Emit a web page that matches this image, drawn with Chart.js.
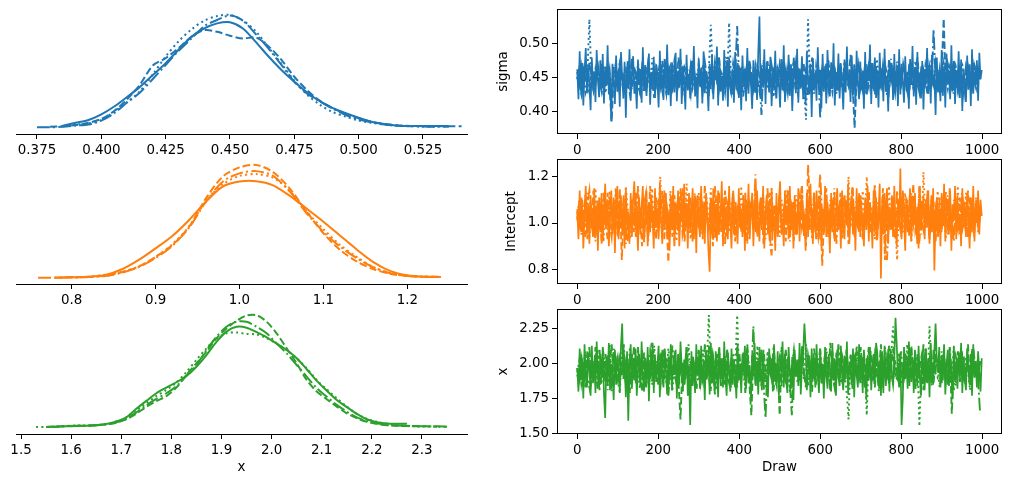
<!DOCTYPE html>
<html><head><meta charset="utf-8">
<script src="https://cdn.jsdelivr.net/npm/chart.js@4.4.1/dist/chart.umd.min.js"></script>
<style>
html,body{margin:0;padding:0;background:#fff;width:1018px;height:487px;overflow:hidden;position:relative}
canvas{position:absolute}
</style></head><body>
<script>
// ---------- KDE grids and densities (4 chains each) ----------
const sigmaGrid = [0.375,0.380,0.385,0.390,0.395,0.400,0.405,0.410,0.415,0.420,0.425,0.430,0.435,0.440,0.445,0.450,0.455,0.460,0.465,0.470,0.475,0.480,0.485,0.490,0.495,0.500,0.505,0.510,0.515,0.520,0.525,0.530,0.535,0.540];
const sigmaKde0 = [null,null,0.3,0.8,1.3,2.3,3.7,5.4,7.2,9.3,11.4,13.8,16.1,17.6,18.5,18.7,17.6,15.2,12.6,10.2,8.1,6.2,4.6,3.4,2.5,1.7,1.0,0.6,0.3,0.25,0.24,0.24,0.24,null];
const sigmaKde1 = [null,0.1,0.2,0.4,0.8,1.5,2.9,5.0,7.6,11.0,12.3,14.1,16.1,17.3,17.0,16.3,15.8,16.0,14.4,12.0,9.0,6.6,4.7,3.4,2.4,1.6,1.0,0.6,0.35,0.25,0.2,0.2,0.2,0.2];
const sigmaKde2 = [0.0,0.0,0.1,0.3,0.5,1.2,2.5,4.4,6.2,8.6,11.1,13.6,15.8,18.0,19.1,19.9,19.0,16.6,14.0,11.1,8.1,6.0,4.6,3.3,2.2,1.4,0.9,0.5,0.3,0.2,0.15,0.1,0.1,null];
const sigmaKde3 = [null,null,0.2,0.5,0.7,1.3,2.8,4.5,6.4,9.4,12.6,15.3,17.4,19.0,19.8,20.0,19.0,17.1,14.2,11.3,8.3,5.8,4.0,2.7,1.9,1.2,0.8,0.5,0.3,0.2,0.15,0.15,null,null];

const interceptGrid = [0.76,0.78,0.80,0.82,0.84,0.86,0.88,0.90,0.92,0.94,0.96,0.98,1.00,1.02,1.04,1.06,1.08,1.10,1.12,1.14,1.16,1.18,1.20,1.22,1.24];
const interceptKde0 = [null,0.0,0.02,0.05,0.14,0.45,0.95,1.57,2.23,3.09,4.07,4.88,5.15,5.17,4.95,4.38,3.70,3.0,2.25,1.5,0.82,0.35,0.13,0.05,0.03];
const interceptKde1 = [null,0.01,0.02,0.04,0.1,0.3,0.59,1.12,1.75,2.73,4.25,5.41,5.91,6.04,5.66,4.77,3.54,2.38,1.48,0.86,0.45,0.2,0.09,0.05,0.04];
const interceptKde2 = [0.0,0.0,0.01,0.03,0.09,0.27,0.57,1.05,1.71,2.68,4.07,5.14,5.59,5.71,5.45,4.61,3.45,2.46,1.66,1.04,0.55,0.23,0.09,0.05,0.04];
const interceptKde3 = [null,null,0.02,0.05,0.16,0.3,0.6,1.1,1.8,2.75,4.1,5.0,5.45,5.55,5.35,4.65,3.55,2.6,1.75,1.1,0.55,0.25,0.1,0.06,0.04];

const xGrid = [1.53,1.55,1.57,1.59,1.61,1.63,1.65,1.67,1.69,1.71,1.73,1.75,1.77,1.79,1.81,1.83,1.85,1.87,1.89,1.91,1.93,1.95,1.97,1.99,2.01,2.03,2.05,2.07,2.09,2.11,2.13,2.15,2.17,2.19,2.21,2.23,2.25,2.27,2.29,2.31,2.33,2.35];
const xKde0 = [null,0.01,0.02,0.03,0.04,0.05,0.07,0.11,0.2,0.35,0.65,0.93,1.2,1.4,1.59,1.81,2.14,2.55,3.02,3.38,3.55,3.52,3.36,3.18,2.96,2.73,2.44,2.05,1.64,1.29,0.96,0.71,0.47,0.28,0.18,0.13,0.12,0.12,null,null,null,null];
const xKde1 = [null,null,0.02,0.04,0.05,0.06,0.07,0.1,0.16,0.28,0.48,0.72,0.92,1.1,1.4,1.85,2.26,2.67,3.14,3.49,3.76,3.95,3.96,3.73,3.32,2.79,2.26,1.67,1.26,0.99,0.73,0.49,0.32,0.19,0.12,0.07,0.05,0.04,0.03,0.03,0.02,null];
const xKde2 = [null,0.01,0.02,0.04,0.05,0.05,0.07,0.1,0.17,0.3,0.52,0.78,1.0,1.2,1.45,1.82,2.2,2.73,3.2,3.55,3.73,3.73,3.55,3.32,2.96,2.61,2.2,1.79,1.38,1.08,0.79,0.55,0.35,0.22,0.14,0.08,0.06,0.05,0.04,0.03,0.03,0.02];
const xKde3 = [0.01,0.01,0.02,0.04,0.06,0.05,0.07,0.11,0.2,0.35,0.6,0.85,1.1,1.32,1.58,1.95,2.38,2.79,3.14,3.32,3.35,3.3,3.28,3.15,2.95,2.73,2.44,2.08,1.67,1.34,1.02,0.73,0.47,0.29,0.19,0.12,0.07,0.05,0.03,0.03,0.02,0.02];

// ---------- Trace values ----------
// chain 0 read every 3rd draw, chains 1-3 every 5th draw
const drawsChain0 = Array.from({length: 334}, (_, i) => i * 3);
const drawsOther = Array.from({length: 200}, (_, i) => i * 5);

const sigmaTrace0 = [
.462,.418,.488,.431,.471,.409,.456,.493,.427,.468,.441,.402,.479,.436,.459,.414,.490,.447,.421,.475,
.433,.484,.412,.466,.438,.497,.425,.453,.386,.470,.444,.411,.482,.429,.461,.407,.487,.450,.419,.473,
.391,.465,.434,.491,.416,.457,.481,.426,.445,.404,.476,.439,.462,.413,.494,.430,.468,.423,.449,.485,
.410,.458,.437,.480,.420,.469,.443,.406,.489,.432,.454,.417,.477,.440,.498,.424,.463,.408,.472,.446,
.428,.486,.415,.460,.435,.492,.411,.467,.448,.403,.483,.431,.455,.419,.474,.439,.496,.422,.451,.405,
.478,.437,.464,.412,.488,.427,.457,.442,.401,.470,.433,.484,.418,.461,.446,.495,.409,.476,.429,.452,
.416,.490,.436,.466,.407,.479,.444,.425,.459,.413,.487,.432,.471,.420,.453,.402,.482,.438,.463,.415,
.493,.426,.468,.441,.404,.475,.430,.458,.417,.486,.539,.421,.462,.435,.491,.411,.473,.447,.428,.480,
.408,.456,.434,.489,.419,.465,.443,.406,.477,.431,.497,.414,.460,.439,.483,.423,.469,.401,.452,.474,
.427,.492,.413,.463,.436,.481,.418,.454,.410,.488,.445,.425,.470,.392,.478,.433,.457,.416,.494,.440,
.461,.405,.484,.429,.467,.412,.490,.447,.422,.472,.435,.500,.409,.458,.431,.485,.419,.464,.441,.403,
.476,.428,.495,.437,.455,.414,.482,.424,.469,.407,.489,.442,.418,.473,.432,.460,.404,.487,.426,.466,
.445,.498,.411,.471,.433,.479,.420,.457,.406,.486,.438,.463,.415,.492,.429,.452,.400,.475,.443,.468,
.417,.484,.436,.460,.408,.491,.425,.470,.444,.413,.481,.431,.458,.404,.477,.439,.496,.422,.465,.410,
.487,.434,.456,.419,.474,.403,.462,.440,.493,.426,.468,.412,.483,.437,.451,.395,.479,.428,.461,.415,
.490,.423,.467,.406,.485,.442,.455,.418,.497,.430,.472,.411,.459,.436,.488,.420,.476,.401,.463,.444,
.414,.482,.432,.469,.408,.491,.426,.458,.439,.475,.416,.486,.447,.461];
const sigmaTrace1 = [
.458,.441,.426,.463,.449,.435,.472,.446,.431,.455,.468,.439,.452,.424,.461,.447,.433,.385,.456,.470,
.443,.429,.459,.451,.437,.476,.444,.432,.466,.453,.440,.427,.462,.449,.434,.471,.457,.445,.420,.463,
.450,.438,.474,.446,.428,.459,.467,.441,.453,.436,.479,.448,.430,.464,.455,.442,.425,.469,.451,.437,
.460,.446,.431,.473,.452,.439,.465,.426,.457,.444,.481,.436,.450,.428,.466,.453,.440,.470,.447,.433,
.462,.449,.422,.458,.441,.476,.455,.434,.467,.446,.430,.463,.451,.438,.474,.443,.427,.459,.448,.435,
.469,.452,.440,.461,.426,.457,.444,.478,.433,.465,.449,.437,.470,.454,.423,.462,.447,.435,.458,.441,
.429,.466,.453,.439,.475,.448,.431,.463,.450,.437,.472,.445,.428,.459,.446,.483,.440,.376,.455,.468,
.442,.430,.464,.451,.436,.473,.447,.425,.460,.453,.439,.468,.444,.432,.476,.456,.441,.427,.462,.449,
.437,.470,.455,.443,.428,.465,.452,.438,.479,.446,.433,.461,.448,.424,.467,.454,.440,.471,.445,.431,
.459,.536,.442,.468,.451,.436,.474,.447,.429,.463,.453,.440,.426,.466,.449,.435,.472,.456,.443,.458];
const sigmaTrace2 = [
.447,.463,.432,.455,.470,.441,.428,.459,.451,.436,.474,.445,.430,.466,.453,.439,.461,.424,.457,.448,
.435,.469,.452,.440,.426,.463,.449,.477,.438,.456,.443,.429,.465,.451,.434,.472,.446,.431,.460,.444,
.458,.437,.471,.450,.427,.462,.445,.433,.468,.453,.440,.476,.447,.425,.459,.442,.466,.436,.454,.430,
.469,.448,.435,.461,.452,.423,.464,.439,.473,.446,.431,.458,.450,.437,.480,.444,.428,.462,.455,.525,
.441,.467,.453,.432,.470,.447,.438,.459,.426,.464,.451,.395,.472,.443,.456,.434,.468,.449,.429,.461,
.445,.476,.437,.452,.428,.465,.450,.439,.471,.446,.433,.458,.424,.463,.448,.436,.479,.454,.441,.466,
.390,.457,.444,.470,.431,.453,.440,.467,.426,.459,.447,.434,.474,.452,.438,.462,.429,.456,.443,.468,
.436,.461,.449,.425,.466,.451,.438,.473,.445,.430,.458,.442,.469,.455,.433,.477,.448,.427,.463,.450,
.439,.464,.452,.431,.470,.446,.437,.459,.443,.428,.467,.454,.441,.474,.449,.434,.520,.447,.436,.461,
.428,.455,.442,.469,.451,.437,.475,.446,.432,.460,.449,.426,.466,.453,.440,.472,.445,.434,.462,.451];
const sigmaTrace3 = [
.451,.438,.466,.443,.429,.457,.535,.446,.432,.462,.449,.436,.470,.454,.427,.460,.445,.433,.467,.452,
.440,.474,.448,.431,.459,.444,.426,.463,.450,.437,.471,.455,.441,.428,.465,.447,.434,.478,.453,.439,
.461,.446,.430,.468,.452,.424,.458,.443,.473,.449,.436,.462,.445,.429,.466,.454,.440,.476,.432,.457,
.448,.435,.469,.453,.427,.463,.527,.438,.472,.450,.433,.459,.444,.480,.437,.530,.442,.425,.467,.451,
.436,.463,.449,.428,.471,.455,.441,.458,.430,.466,.452,.439,.475,.446,.433,.461,.448,.421,.464,.445,
.470,.443,.456,.432,.468,.451,.437,.479,.444,.427,.462,.449,.435,.388,.535,.440,.458,.426,.466,.447,
.433,.461,.448,.437,.474,.445,.429,.465,.452,.438,.470,.446,.431,.459,.455,.442,.428,.467,.450,.436,
.463,.449,.426,.470,.454,.441,.459,.433,.477,.447,.436,.462,.451,.424,.468,.443,.457,.430,.473,.448,
.437,.465,.452,.428,.469,.446,.434,.474,.455,.440,.461,.427,.467,.450,.436,.478,.444,.431,.458,.453,
.442,.470,.447,.433,.464,.451,.426,.466,.455,.438,.473,.448,.430,.461,.445,.437,.468,.452,.440,.457];

const interceptTrace0 = [
1.06,0.93,1.14,0.97,1.10,0.89,1.03,1.16,0.95,1.08,0.91,1.12,1.00,0.94,1.15,0.99,1.07,0.88,1.11,0.96,
1.13,0.92,1.05,1.17,0.98,1.09,0.90,1.02,1.14,0.95,1.11,0.87,1.06,1.16,0.93,1.01,1.12,0.96,1.08,0.89,
1.15,0.99,1.04,0.91,1.13,0.94,1.10,1.18,0.97,1.03,0.88,1.11,0.95,1.07,1.16,0.92,1.00,1.14,0.90,1.09,
0.96,1.12,1.02,0.89,1.15,0.98,1.06,0.93,1.17,1.01,0.91,1.10,0.97,1.13,0.94,1.05,0.88,1.12,1.00,1.16,
0.92,1.08,0.99,1.14,0.90,1.04,1.11,0.95,1.17,0.98,1.07,0.89,1.13,0.96,1.02,1.15,0.93,1.09,0.87,1.12,
1.01,0.94,1.16,0.97,1.06,0.91,1.13,1.03,0.88,0.79,1.10,0.95,1.15,0.99,1.08,0.92,1.14,0.96,1.04,1.18,
0.90,1.11,0.97,1.07,0.93,1.16,1.00,0.89,1.13,0.95,1.09,1.02,0.91,1.15,0.98,1.06,0.94,1.12,0.88,1.10,
0.99,1.17,0.93,1.05,1.13,0.90,1.08,0.96,1.14,1.01,0.92,1.11,0.97,1.16,0.89,1.04,1.12,0.95,1.07,0.91,
1.15,0.98,1.03,0.88,1.13,0.94,1.10,1.18,0.96,1.02,0.90,1.14,0.99,1.06,0.93,1.16,0.97,1.09,0.89,1.12,
1.00,0.95,1.15,0.92,1.07,1.11,0.97,1.04,0.88,1.13,0.94,1.08,1.17,0.99,0.91,1.10,0.96,1.14,1.02,0.93,
1.12,0.90,1.06,0.98,1.16,0.94,1.09,1.01,0.87,1.13,0.96,1.11,0.92,1.05,1.15,0.97,1.08,0.89,1.14,1.00,
0.93,1.10,0.99,1.17,0.91,1.04,1.12,0.95,1.07,0.88,1.15,0.98,1.13,0.94,1.06,1.01,0.90,1.11,0.97,1.16,
0.92,1.09,1.03,0.89,1.14,0.96,1.11,0.93,1.05,1.17,0.76,1.08,0.95,1.13,0.99,1.15,0.91,1.07,0.97,1.12,
0.94,1.16,1.00,0.90,1.10,0.98,1.235,0.93,1.14,1.02,0.88,1.11,0.96,1.06,1.15,0.92,1.09,0.99,1.13,0.95,
1.07,0.89,1.16,0.97,1.04,1.12,0.93,1.10,0.98,1.14,0.91,1.08,0.96,1.15,0.795,1.03,1.11,0.94,1.06,0.90,
1.13,0.99,1.17,0.92,1.05,1.10,0.95,1.14,0.88,1.08,1.01,1.16,0.93,1.12,0.97,1.04,0.90,1.15,0.98,1.09,
0.94,1.13,1.02,0.89,1.11,0.96,1.16,0.92,1.07,1.00,1.14,0.95,1.10,1.03];
const interceptTrace1 = [
1.01,1.09,0.96,1.04,1.12,0.93,1.07,0.99,1.14,0.95,1.02,1.10,0.91,1.06,0.98,1.13,1.00,0.94,1.08,1.03,
0.97,1.15,0.84,1.05,1.11,0.92,1.01,1.07,0.96,1.13,0.99,1.04,0.90,1.09,1.02,0.95,1.16,0.98,1.06,0.93,
1.10,1.00,0.97,1.14,1.03,0.83,1.08,0.94,1.12,1.01,0.96,1.05,1.15,0.92,1.07,0.99,1.11,0.95,1.04,1.09,
0.98,1.13,0.93,1.06,1.02,0.97,1.10,0.90,1.16,1.03,0.95,1.08,1.00,1.14,0.94,1.05,0.99,1.11,0.92,1.07,
1.04,0.96,1.12,1.01,0.93,1.09,1.06,0.97,1.15,0.95,1.02,1.10,0.91,1.07,1.00,1.13,0.96,1.04,1.08,0.94,
1.11,0.99,1.05,0.92,1.14,1.02,0.97,1.09,0.95,1.06,1.12,0.98,1.03,0.90,1.25,1.07,0.96,1.13,1.00,0.94,
1.08,0.815,1.04,1.15,0.97,1.01,1.10,0.93,1.06,0.99,1.13,0.95,1.03,1.09,0.91,1.05,1.16,0.98,1.02,0.96,
1.12,0.94,1.07,1.00,1.14,0.96,1.03,1.10,0.92,1.05,0.99,1.15,0.84,1.08,1.01,0.97,1.11,0.93,1.06,1.02,
0.95,1.13,1.00,1.08,0.94,1.04,1.17,0.97,1.02,0.91,1.10,1.06,0.98,1.14,0.95,1.03,1.09,0.92,1.07,1.01,
0.96,1.12,1.04,0.99,1.15,0.93,1.06,1.01,0.97,1.11,0.95,1.08,1.02,1.14,0.94,1.05,0.99,1.10,0.96,1.03];
const interceptTrace2 = [
1.05,0.97,1.11,1.02,0.94,1.08,1.14,0.99,1.03,0.92,1.10,1.06,0.96,1.13,1.00,0.93,1.09,1.04,0.98,1.15,
0.95,1.07,1.01,1.12,0.91,1.05,0.98,1.10,1.03,0.94,1.16,1.00,0.97,1.08,1.13,0.92,1.06,1.02,0.99,1.11,
0.96,1.04,1.14,0.93,1.09,1.01,0.97,1.12,0.90,1.07,1.03,1.15,0.95,1.00,1.10,0.98,1.06,0.92,1.13,1.02,
0.99,1.08,0.94,1.16,1.04,0.97,1.11,1.01,0.93,1.07,1.13,0.96,1.03,0.91,1.09,1.05,0.98,1.14,1.00,0.95,
1.10,1.02,0.96,1.13,0.92,1.06,1.09,0.99,1.21,0.94,1.04,1.11,0.97,1.01,1.15,0.93,0.86,1.08,1.03,0.98,
1.12,0.95,1.05,1.00,1.14,0.92,1.07,1.02,0.96,1.10,0.99,1.16,0.94,1.04,1.09,0.97,1.01,1.13,0.93,1.06,
1.21,1.03,0.98,1.11,0.95,1.07,1.00,1.14,0.91,1.05,1.09,0.96,1.12,1.02,0.97,1.08,1.15,0.94,1.04,0.99,
1.10,0.93,1.06,1.01,1.13,0.96,1.03,1.17,0.95,1.08,0.98,1.12,0.92,0.84,1.05,1.00,1.11,0.97,1.14,1.02,
0.94,1.07,1.03,1.10,0.96,1.13,0.99,1.05,0.91,1.16,1.01,0.97,1.09,1.04,0.93,1.12,1.00,1.06,0.95,1.11,
1.02,0.98,1.14,0.95,1.07,1.01,0.92,1.10,1.04,0.97,1.13,0.99,1.06,0.94,1.11,1.03,0.96,1.08,1.00,1.05];
const interceptTrace3 = [
1.02,1.10,0.95,1.06,0.99,1.13,0.93,1.08,1.01,1.15,0.96,1.04,1.11,0.92,1.07,1.00,1.14,0.97,1.03,1.09,
0.94,1.12,1.01,0.97,1.16,1.05,0.93,1.09,1.00,1.13,0.96,1.07,1.02,0.91,1.11,0.98,1.04,1.15,0.95,1.08,
1.01,1.20,0.97,1.10,1.03,0.94,1.14,0.99,1.06,0.92,1.12,1.00,1.05,0.96,1.17,1.02,0.93,1.09,1.04,0.98,
1.13,0.95,1.07,1.01,1.11,0.97,1.15,0.93,1.04,1.10,0.99,1.06,0.92,1.14,1.02,0.96,1.08,1.12,0.94,1.05,
1.00,1.16,0.97,1.03,0.91,1.09,1.05,0.98,1.13,0.95,1.07,1.01,1.11,0.93,1.04,0.99,1.15,0.96,1.06,1.02,
0.94,1.10,1.03,1.14,0.97,1.00,1.08,0.92,1.12,1.05,0.98,1.16,0.95,1.07,1.01,1.11,0.93,1.04,1.09,0.99,
1.13,0.96,1.06,1.02,0.94,1.10,1.00,1.15,0.97,1.04,1.08,0.93,1.12,1.01,1.20,0.98,1.05,0.95,1.11,1.03,
0.97,1.14,1.00,1.20,0.96,1.07,1.02,0.93,1.09,1.05,0.99,1.12,0.95,1.04,1.16,0.98,1.08,1.01,0.84,1.10,
1.03,0.96,1.13,1.00,1.06,0.92,1.11,1.04,0.98,1.15,0.95,1.22,1.01,1.07,0.94,1.10,1.02,0.97,1.14,1.05,
0.99,1.08,0.93,1.12,1.03,0.96,1.10,1.01,1.16,0.95,1.06,1.00,1.13,0.97,1.04,1.09,0.94,1.11,1.02,1.07];

const xTrace0 = [
1.97,1.80,2.11,1.88,2.04,1.75,2.14,1.92,1.83,2.08,1.99,1.77,2.13,1.86,2.02,1.79,2.16,1.94,1.84,2.07,
1.90,2.12,1.78,1.61,2.05,1.87,2.15,1.81,2.00,1.93,1.74,2.10,1.85,2.06,1.96,1.79,2.13,2.29,1.89,2.03,
1.76,2.09,1.59,1.98,2.14,1.82,2.01,1.88,2.11,1.77,1.95,2.07,1.84,2.16,1.91,1.80,2.04,1.86,2.12,1.73,
2.02,1.93,2.15,1.79,2.06,1.87,1.99,2.13,1.76,2.08,1.90,1.83,2.11,1.95,1.78,2.05,1.88,2.14,1.81,2.00,
1.92,2.10,1.75,2.07,1.85,2.16,1.97,1.80,2.03,1.89,2.12,1.77,1.94,1.56,2.09,1.84,2.01,1.79,2.14,1.91,
2.05,1.82,2.13,1.87,1.98,1.74,2.10,1.93,2.06,1.78,2.15,1.86,2.02,1.81,2.09,1.95,1.76,2.12,1.89,2.04,
1.83,2.16,1.90,1.77,2.08,1.96,1.80,2.11,1.85,2.03,1.92,1.75,2.14,1.88,2.00,1.79,2.07,1.94,2.13,1.82,
2.10,1.86,1.99,1.73,2.06,1.91,2.15,1.84,2.02,1.78,2.12,1.95,1.81,2.08,1.89,1.92,1.87,1.76,2.11,1.93,
2.04,1.80,2.14,1.90,1.85,2.09,1.77,2.01,1.96,2.16,1.83,2.07,1.88,1.79,2.12,1.94,1.82,2.05,1.74,2.10,
1.91,2.03,1.84,2.15,1.78,1.98,2.08,2.29,2.13,1.81,1.95,2.06,1.76,2.11,1.89,2.02,1.83,2.14,1.92,1.79,
2.09,1.86,2.00,1.75,2.12,1.93,1.82,2.07,1.97,1.80,2.15,1.88,2.04,1.77,2.10,1.90,1.84,2.13,1.95,1.81,
2.06,1.89,2.16,1.78,2.01,1.94,1.85,2.11,1.76,2.08,1.92,1.83,2.14,1.87,2.03,1.79,2.10,1.96,1.74,2.05,
1.88,2.12,1.81,1.99,2.07,1.86,2.15,2.08,1.90,2.02,1.77,2.09,1.79,2.13,1.84,1.97,2.06,1.80,2.11,1.93,
1.85,2.04,2.33,2.14,1.91,1.83,2.08,1.56,1.75,2.12,1.89,2.01,1.82,2.16,1.98,1.87,2.05,1.79,2.10,1.94,
1.84,2.13,1.90,1.77,2.07,1.98,1.81,2.11,1.86,2.03,1.76,2.15,1.92,1.85,2.09,2.29,2.02,1.95,2.12,1.83,
2.06,1.88,2.14,1.78,1.99,2.10,1.84,2.04,1.91,1.75,2.13,1.87,2.00,1.82,2.08,1.93,2.15,1.79,2.05,1.89,
1.81,2.11,1.96,1.85,2.07,1.77,2.14,1.90,2.02,1.83,2.09,1.94,1.80,2.04];
const xTrace1 = [
1.92,1.86,2.05,1.97,1.83,2.09,1.94,2.01,1.88,2.12,1.96,1.81,2.03,1.90,2.07,1.85,1.99,2.14,1.89,1.95,
2.04,1.87,1.98,2.10,1.84,1.93,2.06,1.91,2.13,1.86,2.00,1.95,1.80,2.08,1.92,2.02,1.88,2.15,1.94,1.99,
1.85,2.07,1.93,2.11,1.97,1.82,2.04,1.89,2.09,1.96,1.87,1.60,2.01,1.94,2.12,1.90,1.84,2.06,1.98,1.91,
2.10,1.86,1.95,2.03,1.88,2.13,1.92,1.99,1.78,2.07,1.96,1.89,2.05,1.85,2.11,1.93,1.87,2.02,1.97,1.83,
2.08,1.94,2.00,1.90,2.14,1.86,1.63,2.06,1.92,1.98,2.03,1.84,2.10,1.95,1.89,2.07,1.93,1.81,2.01,1.97,
1.63,2.12,1.91,1.87,2.05,1.96,1.83,2.09,1.94,2.00,1.88,2.13,1.92,1.86,2.04,1.98,1.80,2.11,1.95,1.90,
2.06,1.85,2.02,1.97,1.89,2.15,1.93,1.84,2.08,1.96,1.91,2.03,1.87,2.10,1.94,1.99,1.82,2.07,1.92,1.88,
2.12,1.95,1.86,2.04,1.90,2.09,1.97,1.83,2.01,1.93,2.14,1.88,1.98,2.06,1.85,1.96,2.11,1.91,1.89,2.03,
1.94,1.87,2.08,1.99,1.84,2.13,1.92,2.02,1.88,1.97,2.05,1.81,2.10,1.95,1.90,2.04,1.86,2.12,1.93,1.98,
1.89,2.07,1.96,1.85,2.11,1.64,2.01,1.94,2.09,1.87,1.99,2.03,1.91,2.14,1.86,1.97,2.06,1.92,1.88,2.02];
const xTrace2 = [
1.97,1.89,2.07,1.84,2.01,1.93,2.12,1.87,1.95,2.04,1.82,2.10,1.91,1.98,1.86,2.06,1.94,1.80,2.11,1.96,
1.88,2.03,1.92,2.14,1.85,1.99,1.79,2.07,1.93,1.90,2.12,1.87,1.96,2.05,1.83,1.97,2.09,1.91,1.85,2.02,
1.95,1.81,2.10,1.89,2.04,1.77,1.98,2.13,1.92,1.86,2.07,1.94,1.99,1.84,2.11,1.90,2.03,1.88,1.96,1.82,
2.09,1.93,1.87,2.14,1.98,1.91,1.80,2.05,1.95,1.89,2.10,1.84,1.97,2.06,1.92,1.86,2.02,1.99,1.83,2.12,
1.94,1.88,2.08,1.79,2.00,1.96,1.90,2.27,1.85,2.04,1.93,2.11,1.87,1.61,2.01,1.95,1.89,2.13,1.92,1.98,
2.05,1.84,1.97,2.10,1.91,1.86,1.63,2.07,1.94,2.00,1.88,2.12,1.93,1.82,2.06,1.96,1.90,2.03,1.85,1.99,
2.11,1.92,1.87,2.04,1.95,1.81,2.09,1.97,1.89,2.14,1.93,1.86,2.02,1.98,1.84,2.07,1.91,1.96,2.10,1.88,
1.94,2.05,1.83,1.99,2.12,1.90,1.87,2.06,1.95,1.80,2.08,1.93,2.01,1.89,2.13,1.96,1.85,2.03,1.92,1.97,
2.09,1.86,1.95,2.02,1.88,2.11,1.94,1.82,2.06,1.99,1.91,2.14,1.87,1.97,2.04,1.84,2.10,1.93,1.90,2.00,
1.86,2.07,1.96,1.89,2.12,1.93,1.81,2.05,1.98,1.91,2.09,1.87,1.95,2.03,1.84,2.11,1.92,1.99,1.88,1.64];
const xTrace3 = [
1.94,2.02,1.86,1.98,2.09,1.90,1.83,2.05,1.96,1.88,2.11,1.93,1.85,2.07,1.99,1.81,2.14,1.92,1.87,2.03,
1.95,1.79,2.08,1.91,2.00,1.84,2.12,1.97,1.89,2.06,1.93,1.82,2.10,1.94,1.88,2.04,1.96,1.85,2.13,1.90,
1.98,1.83,2.07,1.92,1.87,2.11,1.95,1.80,2.03,1.97,1.89,2.09,1.86,2.01,1.93,2.14,1.84,1.99,1.91,2.05,
1.88,1.96,2.10,1.85,2.02,2.35,1.90,2.06,1.94,1.81,2.12,1.97,1.87,2.04,1.92,1.99,1.83,2.08,1.95,2.35,
1.89,2.01,1.93,1.84,2.11,1.96,1.88,2.05,1.91,2.13,1.86,1.98,2.03,1.82,2.09,1.94,1.90,2.07,1.85,2.00,
1.97,2.12,1.87,1.93,2.04,1.80,1.99,2.10,1.92,1.86,2.06,1.95,1.89,2.14,1.84,2.01,1.96,1.91,2.08,1.88,
2.03,1.94,1.85,2.11,1.98,1.90,2.05,1.83,1.97,2.09,1.87,2.02,1.93,1.81,1.60,2.07,1.95,1.89,2.13,1.92,
1.86,2.04,1.99,1.63,2.10,1.94,1.88,2.06,1.91,1.97,2.01,1.84,2.12,1.93,1.87,2.05,2.27,1.90,1.96,2.08,
1.85,2.00,1.92,2.14,1.89,1.95,2.03,1.82,2.07,1.55,1.98,1.91,2.11,1.86,2.27,1.94,1.88,2.04,1.97,1.83,
2.09,1.93,1.87,2.02,1.96,1.90,2.12,1.84,1.99,2.06,1.92,1.88,2.05,1.95,1.81,2.10,1.94,1.98,1.89,2.01];

// ---------- Tick values / labels ----------
const sigmaKdeTicks = [0.375,0.400,0.425,0.450,0.475,0.500,0.525];
const sigmaKdeLabels = ['0.375','0.400','0.425','0.450','0.475','0.500','0.525'];
const interceptKdeTicks = [0.8,0.9,1.0,1.1,1.2];
const interceptKdeLabels = ['0.8','0.9','1.0','1.1','1.2'];
const xKdeTicks = [1.5,1.6,1.7,1.8,1.9,2.0,2.1,2.2,2.3];
const xKdeLabels = ['1.5','1.6','1.7','1.8','1.9','2.0','2.1','2.2','2.3'];
const drawTicks = [0,200,400,600,800,1000];
const drawLabels = ['0','200','400','600','800','1000'];
const sigmaTraceTicks = [0.40,0.45,0.50];
const sigmaTraceLabels = ['0.40','0.45','0.50'];
const interceptTraceTicks = [0.8,1.0,1.2];
const interceptTraceLabels = ['0.8','1.0','1.2'];
const xTraceTicks = [1.50,1.75,2.00,2.25];
const xTraceLabels = ['1.50','1.75','2.00','2.25'];

// ---------- Styling ----------
const COLORS = ['#1f77b4', '#ff7f0e', '#2ca02c'];
const DASH = [[], [7.4, 3.2], [12.8, 3.2, 2, 3.2], [2, 3.3]];
const FONT = {family: "'DejaVu Sans', sans-serif", size: 13.4};
const PL = 20, PR = 20, PT = 5;

const boxPlugin = {
  id: 'box',
  afterDatasetsDraw(chart, args, opts) {
    if (!opts.on) return;
    const a = chart.chartArea, ctx = chart.ctx;
    ctx.save();
    ctx.strokeStyle = '#000'; ctx.lineWidth = 1;
    ctx.strokeRect(Math.round(a.left) + 0.5, Math.round(a.top) + 0.5,
                   Math.round(a.right - a.left) - 1, Math.round(a.bottom - a.top) - 1);
    ctx.restore();
  }
};

function kdeSets(grid, chains, color) {
  return chains.map((vals, i) => ({
    data: grid.map((g, k) => vals[k] == null ? null : {x: g, y: vals[k]}).filter(p => p),
    borderColor: color, borderWidth: 2, borderDash: DASH[i], borderCapStyle: 'butt',
    pointRadius: 0, tension: 0.3, fill: false, order: 3 - i
  }));
}
function traceSets(chains, color) {
  return chains.map((vals, i) => {
    const d = i === 0 ? drawsChain0 : drawsOther;
    return {
      data: d.map((x, k) => ({x: x, y: vals[k]})),
      borderColor: color, borderWidth: i === 0 ? 1.7 : 1.9, borderDash: DASH[i], borderCapStyle: 'butt',
      pointRadius: 0, tension: 0, fill: false, order: 3 - i
    };
  });
}

function zeroPad(s) { s.paddingLeft = 0; s.paddingRight = 0; s.paddingTop = 0; s.paddingBottom = 0; }

function addPanel(cfg) {
  const W = cfg.yWidth || 0;
  const [l, t, r, b] = cfg.area;
  const aw = r - l, ah = b - t;
  const left = l - PL - W, top = t - PT;
  const w = PL + W + aw + PR, h = PT + ah + cfg.H;
  const c = document.createElement('canvas');
  c.width = w; c.height = h;
  c.style.left = left + 'px'; c.style.top = top + 'px';
  c.style.width = w + 'px'; c.style.height = h + 'px';
  document.body.appendChild(c);

  const gridOpt = {display: true, drawOnChartArea: false, drawTicks: true, tickLength: 5, color: '#000', tickColor: '#000', tickWidth: 1};
  const xScale = {
    type: 'linear', min: cfg.xMin, max: cfg.xMax,
    afterBuildTicks: s => { s.ticks = cfg.xTicks.map(v => ({value: v})); },
    ticks: {callback: (v, i) => cfg.xLabels[i], autoSkip: false, maxRotation: 0, minRotation: 0, padding: 3, font: FONT, color: '#000'},
    grid: gridOpt,
    border: {display: !cfg.box, color: '#000', width: 1},
    title: cfg.xTitle ? {display: true, text: cfg.xTitle, font: FONT, color: '#000', padding: {top: 0, bottom: cfg.xTitlePad}} : {display: false},
    afterFit: s => { s.height = cfg.H; zeroPad(s); }
  };
  let yScale;
  if (W) {
    yScale = {
      type: 'linear', min: cfg.yMin, max: cfg.yMax,
      afterBuildTicks: s => { s.ticks = cfg.yTicks.map(v => ({value: v})); },
      ticks: {callback: (v, i) => cfg.yLabels[i], autoSkip: false, padding: 3, font: FONT, color: '#000'},
      grid: gridOpt,
      border: {display: false},
      title: {display: true, text: cfg.yTitle, font: FONT, color: '#000', padding: {top: cfg.yTitlePad, bottom: 0}},
      afterFit: s => { s.width = W; zeroPad(s); }
    };
  } else {
    yScale = {type: 'linear', display: false, min: cfg.yMin, max: cfg.yMax};
  }
  new Chart(c, {
    type: 'line',
    data: {datasets: cfg.datasets},
    options: {
      responsive: false, animation: false, events: [],
      layout: {padding: {left: PL, right: PR, top: PT, bottom: 0}},
      plugins: {legend: {display: false}, tooltip: {enabled: false}, box: {on: !!cfg.box}},
      scales: {x: xScale, y: yScale}
    },
    plugins: [boxPlugin]
  });
}

const rows = [[9, 134], [159, 284], [309, 434]];
const LEFT = [16, 467], RIGHT = [557, 1002];

// Left column: KDEs
addPanel({area: [LEFT[0], rows[0][0], LEFT[1], rows[0][1]], H: 32,
  xMin: 0.36684, xMax: 0.5421, yMin: -1.19, yMax: 21.06,
  xTicks: sigmaKdeTicks, xLabels: sigmaKdeLabels,
  datasets: kdeSets(sigmaGrid, [sigmaKde0, sigmaKde1, sigmaKde2, sigmaKde3], COLORS[0])});
addPanel({area: [LEFT[0], rows[1][0], LEFT[1], rows[1][1]], H: 32,
  xMin: 0.7337, xMax: 1.2711, yMin: -0.34, yMax: 6.36,
  xTicks: interceptKdeTicks, xLabels: interceptKdeLabels,
  datasets: kdeSets(interceptGrid, [interceptKde0, interceptKde1, interceptKde2, interceptKde3], COLORS[1])});
addPanel({area: [LEFT[0], rows[2][0], LEFT[1], rows[2][1]], H: 53,
  xMin: 1.49, xMax: 2.3898, yMin: -0.24, yMax: 4.18,
  xTicks: xKdeTicks, xLabels: xKdeLabels, xTitle: 'x', xTitlePad: 11,
  datasets: kdeSets(xGrid, [xKde0, xKde1, xKde2, xKde3], COLORS[2])});

// Right column: traces
addPanel({area: [RIGHT[0], rows[0][0], RIGHT[1], rows[0][1]], H: 32, yWidth: 70, box: true,
  xMin: -50, xMax: 1049, yMin: 0.3672, yMax: 0.5500,
  xTicks: drawTicks, xLabels: drawLabels, yTicks: sigmaTraceTicks, yLabels: sigmaTraceLabels,
  yTitle: 'sigma', yTitlePad: 8,
  datasets: traceSets([sigmaTrace0, sigmaTrace1, sigmaTrace2, sigmaTrace3], COLORS[0])});
addPanel({area: [RIGHT[0], rows[1][0], RIGHT[1], rows[1][1]], H: 32, yWidth: 70, box: true,
  xMin: -50, xMax: 1049, yMin: 0.7365, yMax: 1.2765,
  xTicks: drawTicks, xLabels: drawLabels, yTicks: interceptTraceTicks, yLabels: interceptTraceLabels,
  yTitle: 'Intercept', yTitlePad: 16.5,
  datasets: traceSets([interceptTrace0, interceptTrace1, interceptTrace2, interceptTrace3], COLORS[1])});
addPanel({area: [RIGHT[0], rows[2][0], RIGHT[1], rows[2][1]], H: 53, yWidth: 70, box: true,
  xMin: -50, xMax: 1049, yMin: 1.495, yMax: 2.3938,
  xTicks: drawTicks, xLabels: drawLabels, yTicks: xTraceTicks, yLabels: xTraceLabels,
  yTitle: 'x', yTitlePad: 8.3, xTitle: 'Draw', xTitlePad: 11,
  datasets: traceSets([xTrace0, xTrace1, xTrace2, xTrace3], COLORS[2])});
</script>
</body></html>
